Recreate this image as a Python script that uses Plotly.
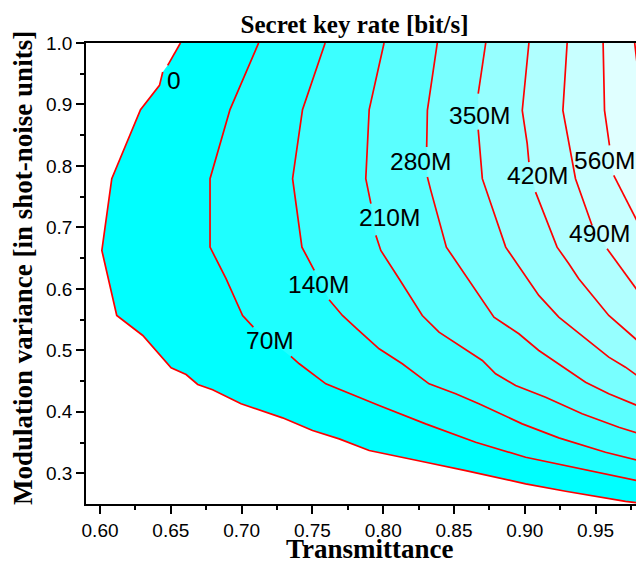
import plotly.graph_objects as go

# ---------------- data ----------------
LEVELS = ["0", "70M", "140M", "210M", "280M", "350M", "420M", "490M", "560M", "630M"]

# contour lines (None = gap where the level label sits)
X_0 = [0.6568, 0.6478, None, 0.6443, 0.6420, 0.6286, 0.6083, 0.6013, 0.6118, 0.6302, 0.6502, 0.6608,
       0.6690, 0.6795, 0.6996, 0.7289, 0.7501, 0.7689, 0.7901, 0.8300, 0.8583, 0.9006, 0.9288,
       0.9711, 0.986]
Y_0 = [1.0, 0.9637, None, 0.9528, 0.9311, 0.8916, 0.7793, 0.6625, 0.5567, 0.5242, 0.4716, 0.4607,
       0.4444, 0.4358, 0.4130, 0.3902, 0.3695, 0.3560, 0.3370, 0.3179, 0.3044, 0.2828, 0.2707,
       0.2544, 0.2500]

X_70M = [0.7120, 0.6918, 0.6777, 0.6777, 0.6890, 0.7007, 0.7083, None, 0.7348, 0.7407, 0.7595,
         0.7712, 0.7830, 0.7971, 0.8300, 0.8653, 0.9006, 0.9288, 0.9593, 0.986]
Y_70M = [1.0, 0.8916, 0.7793, 0.6679, 0.6165, 0.5567, 0.5377, None, 0.4900, 0.4781, 0.4455,
         0.4346, 0.4228, 0.4102, 0.3804, 0.3505, 0.3261, 0.3126, 0.2990, 0.2850]

X_140M = [0.7590, 0.7430, 0.7360, 0.7426, 0.7513, None, 0.7618, 0.7712, 0.7807, 0.7971, 0.8135,
          0.8324, 0.8512, 0.8676, 0.8982, 0.9240, 0.9570, 0.986]
Y_140M = [1.0, 0.8916, 0.7793, 0.6679, 0.6300, None, 0.5823, 0.5567, 0.5367, 0.5025, 0.4781,
          0.4455, 0.4293, 0.4130, 0.3804, 0.3576, 0.3342, 0.3175]

X_210M = [0.8006, 0.7901, 0.7877, 0.7913, None, 0.7948, 0.7983, 0.8112, 0.8276, 0.8394, 0.8700,
          0.8794, 0.8935, 0.9147, 0.9405, 0.9664, 0.986]
Y_210M = [1.0, 0.8916, 0.7793, 0.7386, None, 0.6870, 0.6625, 0.6165, 0.5567, 0.5295, 0.4835,
          0.4618, 0.4428, 0.4237, 0.3967, 0.3749, 0.3605]

X_280M = [0.8382, 0.8312, 0.8307, None, 0.8312, 0.8336, 0.8446, 0.8606, 0.8782, 0.8958, 0.9099,
          0.9429, 0.9593, 0.986]
Y_280M = [1.0, 0.8904, 0.8307, None, 0.7819, 0.7602, 0.6679, 0.6137, 0.5540, 0.5269, 0.4998,
          0.4482, 0.4293, 0.4040]

X_350M = [0.8724, 0.8671, None, 0.8671, 0.8700, 0.8865, 0.9017, 0.9099, 0.9240, 0.9593, 0.9711, 0.986]
Y_350M = [1.0, 0.9176, None, 0.8590, 0.7793, 0.6679, 0.6165, 0.5893, 0.5540, 0.4889, 0.4726, 0.4480]

X_420M = [0.9029, 0.8982, 0.9017, 0.9029, None, 0.9076, 0.9228, 0.9311, 0.9381, 0.9593, 0.9711, 0.986]
Y_420M = [1.0, 0.8904, 0.8362, 0.8063, None, 0.7574, 0.6679, 0.6409, 0.6165, 0.5567, 0.5323, 0.5030]

X_490M = [0.9299, 0.9269, 0.9358, 0.9475, None, 0.9581, 0.9711, 0.986]
Y_490M = [1.0, 0.8904, 0.7793, 0.7032, None, 0.6653, 0.6246, 0.5770]

X_560M = [0.9553, 0.9563, 0.9598, None, 0.9628, 0.986]
Y_560M = [1.0, 0.8904, 0.8335, None, 0.7846, 0.6800]

X_630M = [0.9776, 0.9793, 0.986]
Y_630M = [1.0, 0.9665, 0.9400]

LINES_X = [X_0, X_70M, X_140M, X_210M, X_280M, X_350M, X_420M, X_490M, X_560M, X_630M]
LINES_Y = [Y_0, Y_70M, Y_140M, Y_210M, Y_280M, Y_350M, Y_420M, Y_490M, Y_560M, Y_630M]

# level labels
LABEL_TEXT = ["0", "70M", "140M", "210M", "280M", "350M", "420M", "490M", "560M"]
LABEL_X = [0.6525, 0.7201, 0.7542, 0.8043, 0.8260, 0.8677, 0.9088, 0.9531, 0.9565]
LABEL_Y = [0.9386, 0.5157, 0.6074, 0.7164, 0.8080, 0.8817, 0.7841, 0.6893, 0.8085]

# ticks
X_TICKS = [0.60, 0.65, 0.70, 0.75, 0.80, 0.85, 0.90, 0.95]
X_TICK_TEXT = ["0.60", "0.65", "0.70", "0.75", "0.80", "0.85", "0.90", "0.95"]
X_MINOR = [0.625, 0.675, 0.725, 0.775, 0.825, 0.875, 0.925, 0.975]
Y_TICKS = [0.3, 0.4, 0.5, 0.6, 0.7, 0.8, 0.9, 1.0]
Y_TICK_TEXT = ["0.3", "0.4", "0.5", "0.6", "0.7", "0.8", "0.9", "1.0"]
Y_MINOR = [0.35, 0.45, 0.55, 0.65, 0.75, 0.85, 0.95]

# ---------------- style ----------------
X_RANGE = [0.5901, 0.98418]
Y_RANGE = [0.25, 1.0]
BAND_COLORS = ["#00FFFF", "#1EFFFF", "#3CFFFF", "#5AFFFF", "#78FFFF",
               "#96FFFF", "#B0FFFF", "#C8FFFF", "#E0FFFF", "#F0FFFF"]
SANS = "Liberation Sans, Arial, sans-serif"
SERIF = "Liberation Serif, Times New Roman, serif"

# the page body has an 8px margin, so the figure is drawn 8px smaller
FIG_W, FIG_H = 636, 553

fig = go.Figure()

# filled bands: each level fills the region to its upper right
for lx, ly, col in zip(LINES_X, LINES_Y, BAND_COLORS):
    px = [v for v in lx if v is not None]
    py = [v for v in ly if v is not None]
    px = px + [px[-1], px[0]]
    py = py + [Y_RANGE[1], py[0]]
    fig.add_trace(go.Scatter(x=px, y=py, mode="lines", fill="toself", fillcolor=col,
                             line=dict(width=0, color=col), hoverinfo="skip", showlegend=False))

# contour lines
for lx, ly in zip(LINES_X, LINES_Y):
    fig.add_trace(go.Scatter(x=lx, y=ly, mode="lines", connectgaps=False,
                             line=dict(color="#FF0000", width=1.7), hoverinfo="skip",
                             showlegend=False))

# contour labels
for t, x, y in zip(LABEL_TEXT, LABEL_X, LABEL_Y):
    fig.add_annotation(x=x, y=y, text=t, showarrow=False, xanchor="center", yanchor="middle",
                       font=dict(family=SANS, size=24.5, color="black"))

# axis titles
fig.add_annotation(xref="paper", yref="paper", x=0.508, y=-0.098, text="<b>Transmittance</b>",
                   showarrow=False, xanchor="center", yanchor="middle",
                   font=dict(family=SERIF, size=27, color="black"))
fig.add_annotation(xref="paper", yref="paper", x=-0.113, y=0.512,
                   text="<b>Modulation variance [in shot-noise units]</b>", textangle=-90,
                   showarrow=False, xanchor="center", yanchor="middle",
                   font=dict(family=SERIF, size=27, color="black"))

fig.update_layout(
    width=FIG_W, height=FIG_H,
    margin=dict(l=78, r=0, t=35, b=57),
    paper_bgcolor="white", plot_bgcolor="white",
    title=dict(text="<b>Secret key rate [bit/s]</b>", x=346.5 / FIG_W, xanchor="center",
               xref="container", y=1 - 16 / FIG_H, yanchor="middle",
               font=dict(family=SERIF, size=25, color="black")),
    showlegend=False,
)
fig.update_xaxes(range=X_RANGE, showgrid=False, zeroline=False, showline=True,
                 linecolor="black", linewidth=1.6, mirror=True,
                 ticks="outside", ticklen=8, tickwidth=1.5, tickcolor="black",
                 tickvals=X_TICKS, ticktext=X_TICK_TEXT,
                 tickfont=dict(family=SANS, size=19, color="black"),
                 minor=dict(ticks="outside", ticklen=4, tickwidth=1.5, tickcolor="black",
                            tickvals=X_MINOR, showgrid=False))
fig.update_yaxes(range=Y_RANGE, showgrid=False, zeroline=False, showline=True,
                 linecolor="black", linewidth=1.6,
                 ticks="outside", ticklen=8, tickwidth=1.5, tickcolor="black",
                 tickvals=Y_TICKS, ticktext=Y_TICK_TEXT,
                 tickfont=dict(family=SANS, size=19, color="black"),
                 minor=dict(ticks="outside", ticklen=4, tickwidth=1.5, tickcolor="black",
                            tickvals=Y_MINOR, showgrid=False))

fig.write_html("out.html")
